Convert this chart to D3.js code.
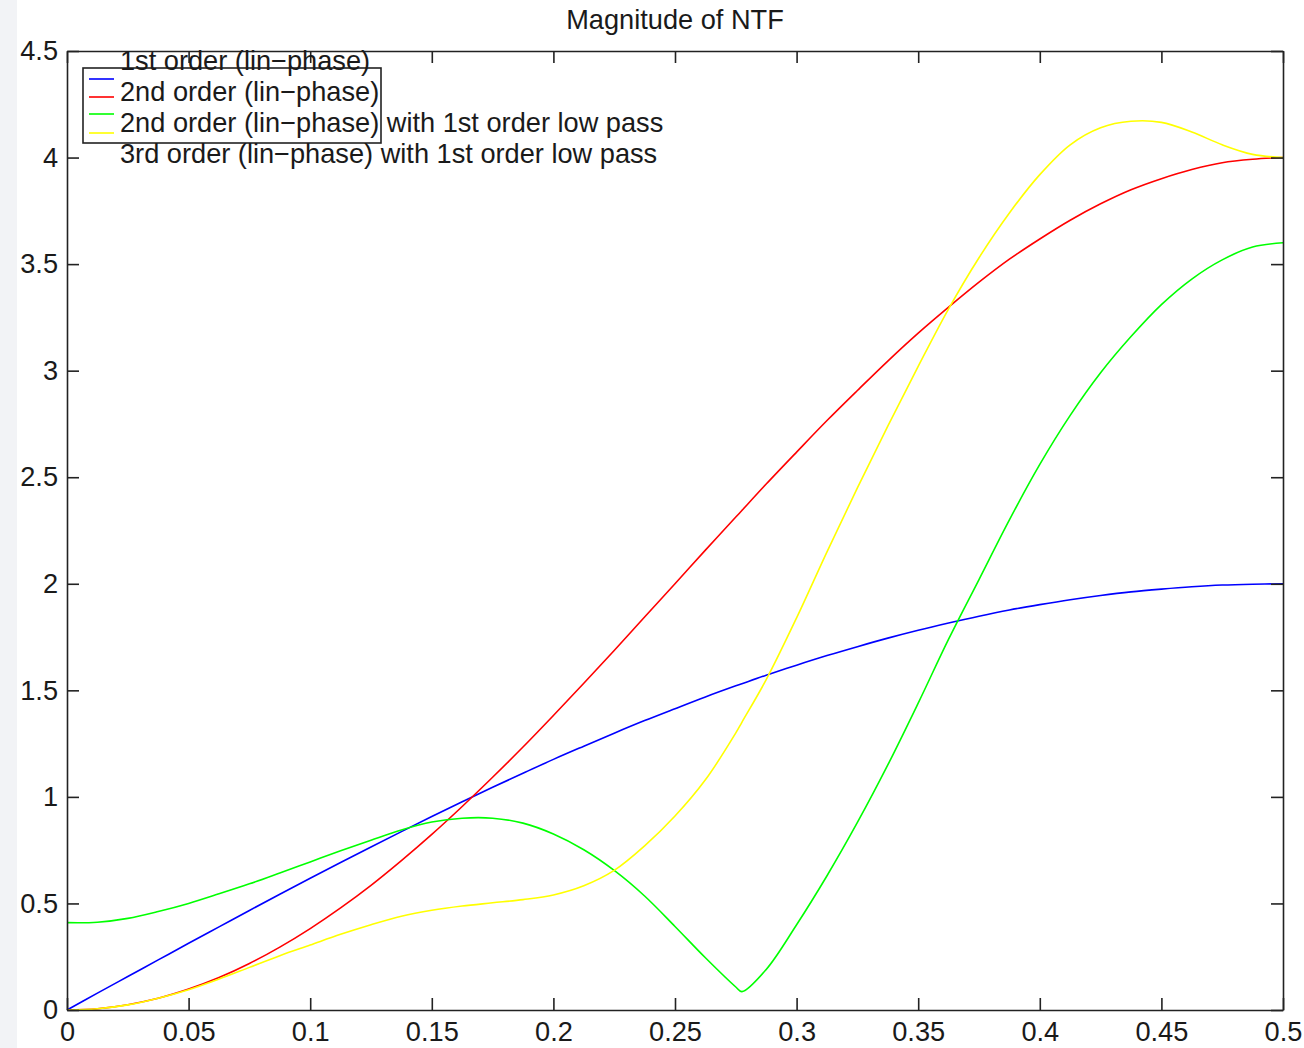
<!DOCTYPE html>
<html>
<head>
<meta charset="utf-8">
<script src="https://cdn.jsdelivr.net/npm/d3@7"></script>
<style>
  html, body { margin: 0; padding: 0; background: #ffffff; }
  svg { display: block; }
  text { font-family: "Liberation Sans", Arial, sans-serif; fill: #1a1a1a; }
</style>
</head>
<body>
<svg id="chart" width="1304" height="1048"></svg>
<script>
// ---- data ----
const freq = [0, 0.0125, 0.025, 0.0375, 0.05, 0.0625, 0.075, 0.0875, 0.1, 0.1125, 0.125, 0.1375,
  0.15, 0.1625, 0.175, 0.1875, 0.2, 0.2125, 0.225, 0.2375, 0.25, 0.2625, 0.275, 0.2775, 0.2875,
  0.3, 0.3125, 0.325, 0.3375, 0.35, 0.3625, 0.375, 0.3875, 0.4, 0.4125, 0.425, 0.4375, 0.45,
  0.4625, 0.475, 0.4875, 0.5];

const firstOrder = [0, 0.079, 0.157, 0.235, 0.313, 0.39, 0.467, 0.543, 0.618, 0.692, 0.765, 0.837,
  0.908, 0.977, 1.045, 1.111, 1.176, 1.238, 1.299, 1.358, 1.414, 1.469, 1.521, 1.531, 1.571,
  1.618, 1.663, 1.705, 1.745, 1.782, 1.816, 1.848, 1.877, 1.902, 1.925, 1.945, 1.962, 1.975,
  1.986, 1.994, 1.998, 2.0];

const secondOrder = [0, 0.006, 0.025, 0.055, 0.098, 0.152, 0.218, 0.295, 0.382, 0.479, 0.585, 0.701,
  0.824, 0.955, 1.092, 1.234, 1.382, 1.533, 1.687, 1.844, 2.0, 2.158, 2.313, 2.344, 2.468,
  2.618, 2.766, 2.907, 3.045, 3.176, 3.298, 3.415, 3.523, 3.618, 3.706, 3.783, 3.849, 3.901,
  3.944, 3.976, 3.992, 4.0];

const secondOrderLP = [0.41, 0.412, 0.43, 0.462, 0.5, 0.545, 0.592, 0.643, 0.695, 0.747, 0.797, 0.845,
  0.882, 0.9, 0.9, 0.877, 0.826, 0.752, 0.655, 0.535, 0.392, 0.245, 0.108, 0.086, 0.19,
  0.4, 0.63, 0.88, 1.15, 1.44, 1.74, 2.02, 2.3, 2.56, 2.79, 2.99, 3.16, 3.31,
  3.43, 3.52, 3.58, 3.6];

const thirdOrderLP = [0, 0.006, 0.024, 0.055, 0.095, 0.145, 0.2, 0.255, 0.305, 0.355, 0.4, 0.44,
  0.468, 0.488, 0.503, 0.518, 0.54, 0.583, 0.655, 0.77, 0.91, 1.08, 1.3, 1.35, 1.55,
  1.84, 2.15, 2.45, 2.74, 3.02, 3.29, 3.53, 3.74, 3.92, 4.06, 4.14, 4.17, 4.165,
  4.12, 4.06, 4.015, 4.0];

const seriesNames = ["1st order (lin\u2212phase)", "2nd order (lin\u2212phase)",
  "2nd order (lin\u2212phase) with 1st order low pass", "3rd order (lin\u2212phase) with 1st order low pass"];
const seriesColors = ["#0000ff", "#ff0000", "#00ff00", "#ffff00"];

const xTicks = [0, 0.05, 0.1, 0.15, 0.2, 0.25, 0.3, 0.35, 0.4, 0.45, 0.5];
const xTickLabels = ["0", "0.05", "0.1", "0.15", "0.2", "0.25", "0.3", "0.35", "0.4", "0.45", "0.5"];
const yTicks = [0, 0.5, 1, 1.5, 2, 2.5, 3, 3.5, 4, 4.5];
const yTickLabels = ["0", "0.5", "1", "1.5", "2", "2.5", "3", "3.5", "4", "4.5"];
const chartTitle = "Magnitude of NTF";

// ---- layout ----
const svg = d3.select("#chart");
const L = 67, R = 1283, T = 51, B = 1010;
const fontSize = 27.2;

// faint grey strip at the left edge of the reference scan
svg.append("rect").attr("x", 0).attr("y", 0).attr("width", 17).attr("height", 1048).attr("fill", "#f2f3f6");

const x = d3.scaleLinear().domain([0, 0.5]).range([L, R]);
const y = d3.scaleLinear().domain([0, 4.5]).range([B, T]);

function styleAxis(g) {
  g.selectAll(".domain").attr("stroke", "#222").attr("stroke-width", 1.6);
  g.selectAll(".tick line").attr("stroke", "#222").attr("stroke-width", 1.6);
  g.selectAll(".tick text").style("font-size", fontSize + "px")
    .style("font-family", "'Liberation Sans', Arial, sans-serif").attr("fill", "#1a1a1a");
}

// curves
const allSeries = [firstOrder, secondOrder, secondOrderLP, thirdOrderLP];
const line = d3.line().x((d, i) => x(freq[i])).y(d => y(d)).curve(d3.curveCatmullRom.alpha(0.5));
const plot = svg.append("g");
allSeries.forEach((vals, k) => {
  plot.append("path").datum(vals).attr("d", line)
    .attr("fill", "none").attr("stroke", seriesColors[k]).attr("stroke-width", 1.6);
});

// axes
const xAxis = svg.append("g").attr("transform", `translate(0,${B})`)
  .call(d3.axisBottom(x).tickValues(xTicks).tickFormat((d, i) => xTickLabels[i])
    .tickSizeInner(-12).tickSizeOuter(0).tickPadding(12));
styleAxis(xAxis);
const xAxisTop = svg.append("g").attr("transform", `translate(0,${T})`)
  .call(d3.axisTop(x).tickValues(xTicks).tickFormat("").tickSizeInner(-12).tickSizeOuter(0));
styleAxis(xAxisTop);
const yAxis = svg.append("g").attr("transform", `translate(${L},0)`)
  .call(d3.axisLeft(y).tickValues(yTicks).tickFormat((d, i) => yTickLabels[i])
    .tickSizeInner(-12).tickSizeOuter(0).tickPadding(9));
styleAxis(yAxis);
const yAxisRight = svg.append("g").attr("transform", `translate(${R},0)`)
  .call(d3.axisRight(y).tickValues(yTicks).tickFormat("").tickSizeInner(-12).tickSizeOuter(0));
styleAxis(yAxisRight);

// title
svg.append("text").attr("x", 675).attr("y", 29).attr("text-anchor", "middle")
  .style("font-size", fontSize + "px").text(chartTitle);

// legend (box and samples offset from labels, as in the reference)
const leg = svg.append("g");
leg.append("rect").attr("x", 83).attr("y", 68).attr("width", 298).attr("height", 75)
  .attr("fill", "#ffffff").attr("stroke", "#222").attr("stroke-width", 1.6);
const sampleY = [79, 97, 114, 133];
const labelY = [70, 101, 132, 163];
seriesNames.forEach((name, k) => {
  leg.append("line").attr("x1", 89).attr("x2", 114).attr("y1", sampleY[k]).attr("y2", sampleY[k])
    .attr("stroke", seriesColors[k]).attr("stroke-width", 1.6);
  leg.append("text").attr("x", 120).attr("y", labelY[k]).style("font-size", fontSize + "px").text(name);
});
</script>
</body>
</html>
